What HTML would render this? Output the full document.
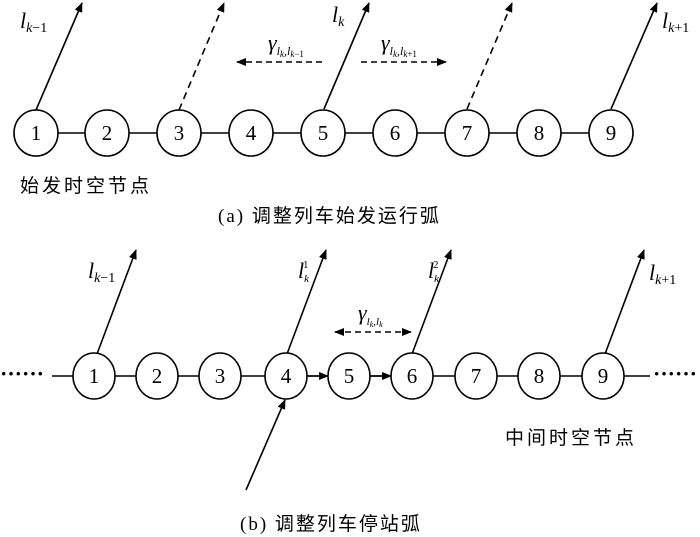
<!DOCTYPE html>
<html><head><meta charset="utf-8"><style>
body{margin:0;background:#fff}
svg{display:block}
text{font-family:"Liberation Serif","Noto Serif CJK SC",serif;fill:#000}
.cn{font-family:"Liberation Serif","Noto Sans CJK SC",sans-serif}
</style></head><body>
<svg width="700" height="537" viewBox="0 0 700 537">
<defs>
<marker id="a" markerWidth="10" markerHeight="8" refX="9" refY="4" orient="auto" markerUnits="userSpaceOnUse"><path d="M0,0L10,4L0,8z" fill="#000"/></marker>
<marker id="s" markerWidth="10" markerHeight="8" refX="1" refY="4" orient="auto" markerUnits="userSpaceOnUse"><path d="M10,0L0,4L10,8z" fill="#000"/></marker>
</defs>
<g stroke="#000" stroke-width="1.6" fill="none">
<line x1="36" y1="133" x2="611" y2="133"/>
<line x1="36" y1="110" x2="82" y2="3" marker-end="url(#a)"/>
<line x1="179" y1="110" x2="224" y2="3" stroke-dasharray="7,5" marker-end="url(#a)"/>
<line x1="324" y1="109" x2="369" y2="3" marker-end="url(#a)"/>
<line x1="467" y1="109" x2="512" y2="3" stroke-dasharray="7,5" marker-end="url(#a)"/>
<line x1="611" y1="109" x2="657" y2="3" marker-end="url(#a)"/>
<line x1="322" y1="62" x2="237" y2="62" stroke-dasharray="6,4" marker-end="url(#a)"/>
<line x1="361" y1="62" x2="446" y2="62" stroke-dasharray="6,4" marker-end="url(#a)"/>
<line x1="52" y1="376" x2="650" y2="376"/>
<line x1="97" y1="354" x2="136" y2="250" marker-end="url(#a)"/>
<line x1="287" y1="354" x2="326" y2="250" marker-end="url(#a)"/>
<line x1="412" y1="354" x2="451" y2="250" marker-end="url(#a)"/>
<line x1="605" y1="354" x2="644" y2="250" marker-end="url(#a)"/>
<line x1="246" y1="490" x2="285" y2="400" marker-end="url(#a)"/>
<line x1="307" y1="376" x2="328" y2="376" marker-end="url(#a)"/>
<line x1="370" y1="376" x2="391" y2="376" marker-end="url(#a)"/>
<line x1="335" y1="332" x2="411" y2="332" stroke-dasharray="6,4" marker-end="url(#a)" marker-start="url(#s)"/>
</g>
<g stroke="#000" stroke-width="1.6" fill="#fff">
<ellipse cx="36" cy="133" rx="22" ry="23"/><ellipse cx="107" cy="133" rx="22" ry="23"/><ellipse cx="179" cy="133" rx="22" ry="23"/><ellipse cx="251" cy="133" rx="22" ry="23"/><ellipse cx="323" cy="133" rx="22" ry="23"/><ellipse cx="395" cy="133" rx="22" ry="23"/><ellipse cx="467" cy="133" rx="22" ry="23"/><ellipse cx="539" cy="133" rx="22" ry="23"/><ellipse cx="611" cy="133" rx="22" ry="23"/>
<ellipse cx="94" cy="376" rx="21" ry="23"/><ellipse cx="157" cy="376" rx="21" ry="23"/><ellipse cx="220" cy="376" rx="21" ry="23"/><ellipse cx="286" cy="376" rx="21" ry="23"/><ellipse cx="349" cy="376" rx="21" ry="23"/><ellipse cx="412" cy="376" rx="21" ry="23"/><ellipse cx="476" cy="376" rx="21" ry="23"/><ellipse cx="539" cy="376" rx="21" ry="23"/><ellipse cx="603" cy="376" rx="21" ry="23"/>
</g>
<g font-size="21" text-anchor="middle">
<text x="36" y="140">1</text><text x="107" y="140">2</text><text x="179" y="140">3</text><text x="251" y="140">4</text><text x="323" y="140">5</text><text x="395" y="140">6</text><text x="467" y="140">7</text><text x="539" y="140">8</text><text x="611" y="140">9</text>
<text x="94" y="383">1</text><text x="157" y="383">2</text><text x="220" y="383">3</text><text x="286" y="383">4</text><text x="349" y="383">5</text><text x="412" y="383">6</text><text x="476" y="383">7</text><text x="539" y="383">8</text><text x="603" y="383">9</text>
</g>
<g font-size="22" font-style="italic">
<text x="20" y="28">l<tspan font-size="14" dy="4">k</tspan><tspan font-size="14" font-style="normal">−1</tspan></text>
<text x="332" y="22">l<tspan font-size="14" dy="4">k</tspan></text>
<text x="662" y="28">l<tspan font-size="14" dy="4">k</tspan><tspan font-size="14" font-style="normal">+1</tspan></text>
<text x="268" y="50">γ<tspan font-size="12" dy="5">l</tspan><tspan font-size="9" dy="2">k</tspan><tspan font-size="12" dy="-2">,l</tspan><tspan font-size="9" dy="2">k</tspan><tspan font-size="9" font-style="normal">−1</tspan></text>
<text x="381" y="50">γ<tspan font-size="12" dy="5">l</tspan><tspan font-size="9" dy="2">k</tspan><tspan font-size="12" dy="-2">,l</tspan><tspan font-size="9" dy="2">k</tspan><tspan font-size="9" font-style="normal">+1</tspan></text>
<text x="88" y="278">l<tspan font-size="14" dy="4">k</tspan><tspan font-size="14" font-style="normal">−1</tspan></text>
<text x="298" y="278">l<tspan font-size="11" dy="4">k</tspan><tspan font-size="11" font-style="normal" dx="-6" dy="-14">1</tspan></text>
<text x="428" y="278">l<tspan font-size="11" dy="4">k</tspan><tspan font-size="11" font-style="normal" dx="-6" dy="-14">2</tspan></text>
<text x="649" y="280">l<tspan font-size="14" dy="4">k</tspan><tspan font-size="14" font-style="normal">+1</tspan></text>
<text x="358" y="320">γ<tspan font-size="11" dy="5">l</tspan><tspan font-size="8" dy="2">k</tspan><tspan font-size="11" dy="-2">,l</tspan><tspan font-size="8" dy="2">k</tspan></text>
</g>
<text x="0" y="381" font-size="22" font-weight="bold">······</text>
<text x="653" y="381" font-size="22" font-weight="bold">······</text>
<text class="cn" x="20" y="192" font-size="19" letter-spacing="3">始发时空节点</text>
<text class="cn" x="218" y="222" font-size="19" letter-spacing="2">(a)  调整列车始发运行弧</text>
<text class="cn" x="505" y="444" font-size="19" letter-spacing="3">中间时空节点</text>
<text class="cn" x="240" y="530" font-size="19" letter-spacing="2">(b)  调整列车停站弧</text>
</svg>
</body></html>
